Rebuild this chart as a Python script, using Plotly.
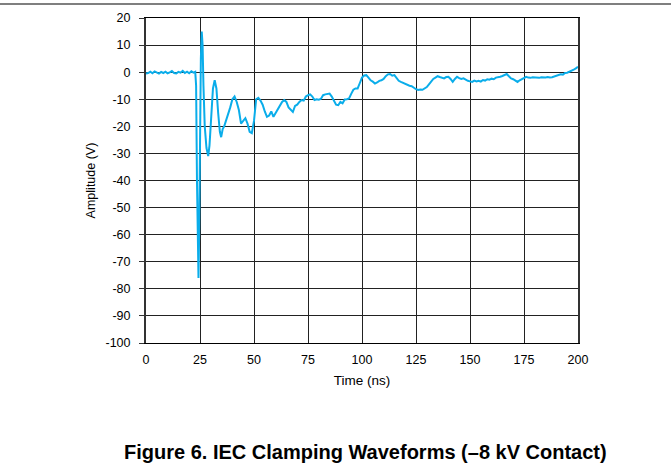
import plotly.graph_objects as go

time_ns = [0, 1, 2, 3, 4, 5, 6, 7, 8, 9, 10, 11, 12, 13, 14, 15, 16, 17, 18, 19, 20, 21, 22, 22.8,
           23.2, 23.6, 24.0, 24.3, 24.6, 25.0, 25.4, 25.8, 26.2, 26.6, 27.2, 28.0, 28.8, 29.4, 30.2,
           31.0, 31.8, 32.6, 33.4, 34.2, 34.8, 35.5, 36.2, 37, 38, 39, 40, 41, 42, 43, 44, 45, 46,
           47, 48, 49, 50, 51, 52, 53, 54, 55, 56, 57, 58, 59, 60, 61, 62, 63, 64, 65, 66, 67, 68,
           69, 70, 71, 72, 73, 74, 75, 76, 77, 78, 79, 80, 81, 82, 83, 84, 85, 86, 87, 88, 89, 90,
           91, 92, 93, 94, 95, 96, 97, 98, 99, 100, 101, 102, 103, 104, 105, 106, 107, 108, 109,
           110, 111, 112, 113, 114, 115, 116, 117, 118, 119, 120, 121, 122, 123, 124, 125, 126,
           127, 128, 129, 130, 131, 132, 133, 134, 135, 136, 137, 138, 139, 140, 141, 142, 143,
           144, 145, 146, 147, 148, 149, 150, 151, 152, 153, 154, 155, 156, 157, 158, 159, 160,
           161, 162, 163, 164, 165, 166, 167, 168, 169, 170, 171, 172, 173, 174, 175, 176, 177,
           178, 179, 180, 181, 182, 183, 184, 185, 186, 187, 188, 189, 190, 191, 192, 193, 194,
           195, 196, 197, 198, 199, 200]

amplitude_v = [-0.5, -0.3, 0.2, -0.4, 0.3, -0.2, -0.5, 0.1, -0.3, 0.2, -0.4, -0.1, 0.4, -0.3, -0.5,
               0.1, -0.2, 0.5, -0.3, 0.2, -0.4, 0.3, -0.2, 0.1,
               -5, -40, -70, -76, -60, -20, 5, 15, 10, -5, -20, -28, -31, -27, -15,
               -6, -3, -6, -15, -22, -24, -21, -20, -18, -16, -13, -10, -9, -11, -14, -19, -18, -17,
               -19, -22, -22.5, -18, -10, -9.5, -10.5, -12, -14.5, -16.5, -16, -14.5, -16.5, -15,
               -13.5, -12, -11, -10.3, -11, -13, -14, -14.7, -12.5, -12, -11, -10.3, -10.5, -9,
               -8.5, -8.2, -9, -10.3, -10, -10.2, -9.8, -8.5, -8.2, -8, -7.9, -9, -10.5, -12, -12.2,
               -11, -11.5, -10.1, -10, -9.7, -8, -6.5, -6, -6, -4, -2, -1.2, -1.1, -2, -3, -3.5,
               -4.2, -3.8, -3.2, -3, -2.5, -1.5, -0.8, -0.7, -1.3, -1.1, -2, -3.2, -3.6, -4, -4.5,
               -4.8, -5, -5.2, -5.8, -6.3, -6.6, -6.4, -6.5, -6, -5.5, -4.5, -3.5, -2.5, -2, -1.5,
               -1.8, -2.1, -2.3, -1.8, -1.7, -2.5, -3.6, -2.5, -1.7, -2.2, -2.5, -2.3, -2.8, -3.2,
               -3.4, -3.6, -3.1, -3.4, -3.2, -3.5, -2.9, -3.1, -2.6, -2.8, -2.4, -2.6, -2.0, -1.9,
               -1.7, -1.4, -0.9, -0.7, -1.5, -2.3, -2.6, -3.2, -3.6, -3, -2.5, -2, -1.7, -2, -2.1,
               -1.9, -2, -2, -2.1, -1.9, -2, -2, -1.8, -2, -1.9, -1.6, -1.3, -1.2, -0.8, -0.9, -0.3,
               -0.2, 0.1, 0.5, 0.9, 1.4, 2]

x_ticks = [0, 25, 50, 75, 100, 125, 150, 175, 200]
y_ticks = [20, 10, 0, -10, -20, -30, -40, -50, -60, -70, -80, -90, -100]

title_text = "Figure 6. IEC Clamping Waveforms (–8 kV Contact)"

FONT = "Liberation Sans, Arial, sans-serif"

fig = go.Figure()
fig.add_trace(go.Scatter(x=time_ns, y=amplitude_v, mode="lines",
                         line=dict(color="#0AADEA", width=2), showlegend=False))

fig.update_layout(
    width=671, height=472,
    margin=dict(l=146, r=93, t=18, b=129),
    paper_bgcolor="white", plot_bgcolor="white",
    font=dict(family=FONT, size=12, color="black"),
    xaxis=dict(range=[0, 200], tickvals=x_ticks, ticktext=[str(v) for v in x_ticks],
               showgrid=True, gridcolor="#222", gridwidth=1, zeroline=False,
               showline=True, linecolor="black", linewidth=1, mirror=True,
               ticks="", ticklabelstandoff=5,
               title=dict(text="Time (ns)", standoff=9, font=dict(family=FONT, size=13.5)),
               tickfont=dict(size=12.5)),
    yaxis=dict(range=[-100, 20], tickvals=y_ticks, ticktext=[str(v) for v in y_ticks],
               showgrid=True, gridcolor="#222", gridwidth=1, zeroline=False,
               showline=True, linecolor="#333", linewidth=2, mirror=True,
               ticks="outside", ticklen=5, tickcolor="#333", ticklabelstandoff=6,
               title=dict(text="Amplitude (V)", standoff=7, font=dict(family=FONT, size=12.5)),
               tickfont=dict(size=12.5)),
    shapes=[dict(type="line", xref="paper", yref="paper",
                 x0=-146/432, x1=525/432, y0=(343-4)/325, y1=(343-4)/325,
                 line=dict(color="black", width=1.2))],
    annotations=[dict(text="<b>" + title_text + "</b>", xref="paper", yref="paper",
                      x=(365-146)/432, y=(343-452)/325, showarrow=False,
                      xanchor="center", yanchor="middle",
                      font=dict(family=FONT, size=20, color="black"))],
)

fig.write_html("out.html", config={"displayModeBar": False},
               post_script="document.body.style.margin='0px';")
